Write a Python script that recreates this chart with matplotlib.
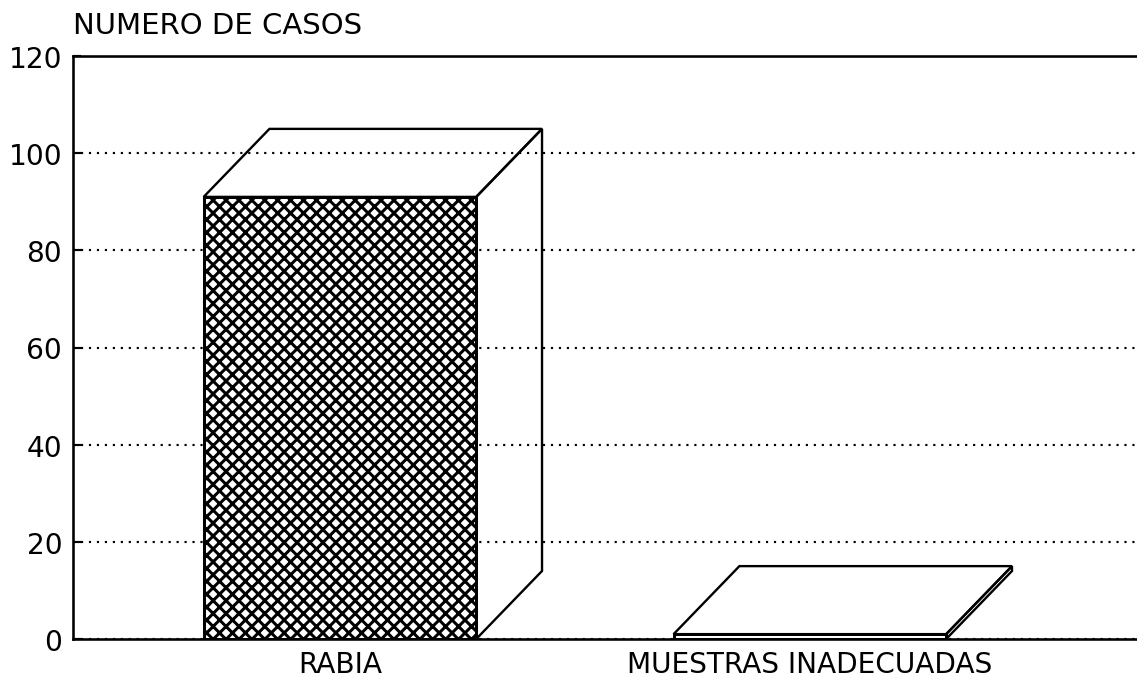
import numpy as np
import matplotlib.pyplot as plt
from matplotlib.patches import Polygon

categorias = ['RABIA', 'MUESTRAS INADECUADAS']
casos = [91, 1]
yticks = [0, 20, 40, 60, 80, 100, 120]

# 3D box look: depth offsets in data units
DX = 0.14
DY = 14
ANCHO = 0.58

DPI = 155
plt.rcParams['font.family'] = 'DejaVu Sans'
plt.rcParams['hatch.linewidth'] = 1.4

fig = plt.figure(figsize=(1137 / DPI, 685 / DPI), dpi=DPI)
ax = fig.add_axes([73 / 1137, 45 / 685, 1 - 73 / 1137, 583 / 685])

x = np.arange(len(categorias))

ax.bar(x, casos, width=ANCHO, facecolor='white', edgecolor='black',
       hatch=['xxxx', ''], linewidth=1.4, zorder=3)

for xi, v in zip(x, casos):
    l, r = xi - ANCHO / 2, xi + ANCHO / 2
    top = Polygon([(l, v), (l + DX, v + DY), (r + DX, v + DY), (r, v)],
                  closed=True, fill=False, edgecolor='black', lw=1.1, zorder=2)
    side = Polygon([(r, 0), (r + DX, DY), (r + DX, v + DY), (r, v)],
                   closed=True, fill=False, edgecolor='black', lw=1.1, zorder=2)
    ax.add_patch(top)
    ax.add_patch(side)

ax.set_xlim(-0.568, 1.696)
ax.set_ylim(0, 120)
ax.set_yticks(yticks)
ax.set_xticks(x)
ax.set_xticklabels(categorias, fontsize=13)
ax.tick_params(axis='y', direction='in', length=3.7, width=1, labelsize=13, pad=5)
ax.tick_params(axis='x', length=0, pad=5)

ax.yaxis.grid(True, linestyle=(0, (1, 2.7)), color='black', linewidth=1.0, zorder=1)
ax.set_axisbelow(True)

ax.spines['right'].set_visible(False)
for s in ['left', 'top', 'bottom']:
    ax.spines[s].set_linewidth(1.2)

ax.text(0, 1.03, 'NUMERO DE CASOS', transform=ax.transAxes, fontsize=13.5,
        ha='left', va='bottom')

fig.savefig('out.png', dpi=DPI)
